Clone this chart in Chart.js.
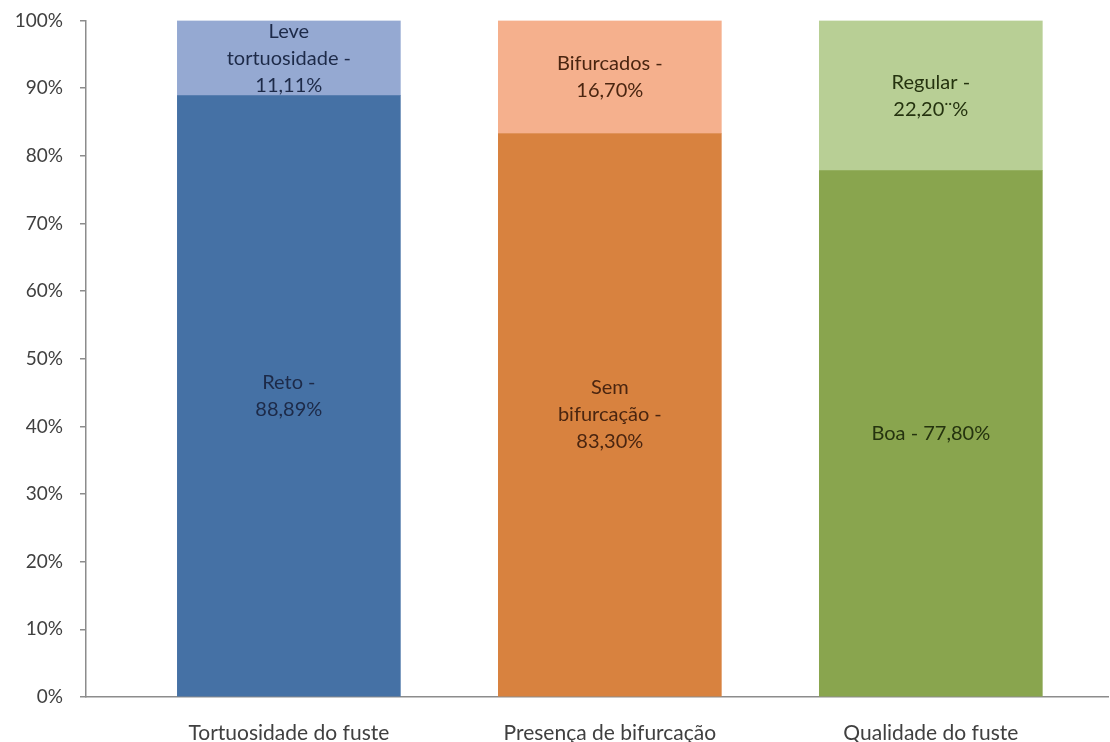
<!DOCTYPE html>
<html lang="pt-br">
<head>
  <meta charset="UTF-8" />
  <title>Qualidade do fuste</title>
  <script src="https://cdn.jsdelivr.net/npm/chart.js"></script>
  <style>
    html, body { margin: 0; padding: 0; background: #fff; }
    .grafico-box { width: 1110px; height: 742px; }
  </style>
</head>
<body>
  <div class="grafico-box">
    <canvas id="graficoFuste"></canvas>
  </div>

  <script>
    // Categorias e valores (%)
    const categorias = ['Tortuosidade do fuste', 'Presença de bifurcação', 'Qualidade do fuste'];
    const valoresBase = [88.89, 83.30, 77.80];
    const valoresTopo = [11.11, 16.70, 22.20];

    // Rótulos dentro das barras
    const rotulosBase = [['Reto -', '88,89%'], ['Sem', 'bifurcação -', '83,30%'], ['Boa - 77,80%']];
    const rotulosTopo = [['Leve', 'tortuosidade -', '11,11%'], ['Bifurcados -', '16,70%'], ['Regular -', '22,20¨%']];

    const ticksY = [0, 10, 20, 30, 40, 50, 60, 70, 80, 90, 100];

    const coresBase = ['#4571a5', '#d8823f', '#89a54e'];
    const coresTopo = ['#95a9d2', '#f5b08d', '#b8cf95'];
    const coresTexto = ['#1d2a48', '#4a2510', '#25330f'];

    const fonte = 'Lato, "Open Sans", sans-serif';

    // Escreve o texto no meio de cada segmento
    const rotulosPlugin = {
      id: 'rotulosSegmentos',
      afterDatasetsDraw(chart) {
        const ctx = chart.ctx;
        ctx.save();
        ctx.font = '20px ' + fonte;
        ctx.textAlign = 'center';
        ctx.textBaseline = 'middle';
        const altLinha = 27;
        chart.data.datasets.forEach((ds, d) => {
          const meta = chart.getDatasetMeta(d);
          meta.data.forEach((bar, i) => {
            const linhas = ds.rotulos[i];
            const centroY = (bar.y + bar.base) / 2;
            const inicio = centroY - (linhas.length - 1) * altLinha / 2;
            ctx.fillStyle = coresTexto[i];
            linhas.forEach((txt, k) => ctx.fillText(txt, bar.x, inicio + k * altLinha));
          });
        });
        ctx.restore();
      }
    };

    const chartFuste = new Chart(document.getElementById('graficoFuste'), {
      type: 'bar',
      data: {
        datasets: [
          {
            label: 'Base',
            data: valoresBase.map((v, i) => ({ x: i, y: v })),
            backgroundColor: coresBase,
            rotulos: rotulosBase,
            barThickness: 223
          },
          {
            label: 'Topo',
            data: valoresTopo.map((v, i) => ({ x: i, y: v })),
            backgroundColor: coresTopo,
            rotulos: rotulosTopo,
            barThickness: 223
          }
        ]
      },
      options: {
        responsive: true,
        maintainAspectRatio: false,
        animation: false,
        layout: { padding: { top: 20.5, right: 2, bottom: 0, left: 0 } },
        plugins: {
          legend: { display: false },
          tooltip: { enabled: false }
        },
        scales: {
          x: {
            type: 'linear',
            stacked: true,
            offset: false,
            min: -0.632,
            max: 2.552,
            afterBuildTicks: s => { s.ticks = categorias.map((_, i) => ({ value: i })); },
            afterFit: s => { s.height = 45; },
            grid: { display: true, offset: false, drawOnChartArea: false, drawTicks: false },
            border: { color: '#8c8c8c', width: 1.5 },
            ticks: {
              autoSkip: false,
              maxRotation: 0,
              padding: 24,
              color: '#404040',
              font: { family: fonte, size: 21 },
              callback: v => categorias[v]
            }
          },
          y: {
            stacked: true,
            min: 0,
            max: 100,
            afterBuildTicks: s => { s.ticks = ticksY.map(v => ({ value: v })); },
            afterFit: s => { s.width = 86; s.paddingTop = 0; s.paddingBottom = 0; },
            grid: { drawOnChartArea: false, drawTicks: true, tickLength: 6, color: '#8c8c8c', lineWidth: 1.5 },
            border: { color: '#8c8c8c', width: 1.5 },
            ticks: {
              padding: 17,
              color: '#404040',
              font: { family: fonte, size: 19 },
              callback: v => v + '%'
            }
          }
        }
      },
      plugins: [rotulosPlugin]
    });
  </script>
</body>
</html>
